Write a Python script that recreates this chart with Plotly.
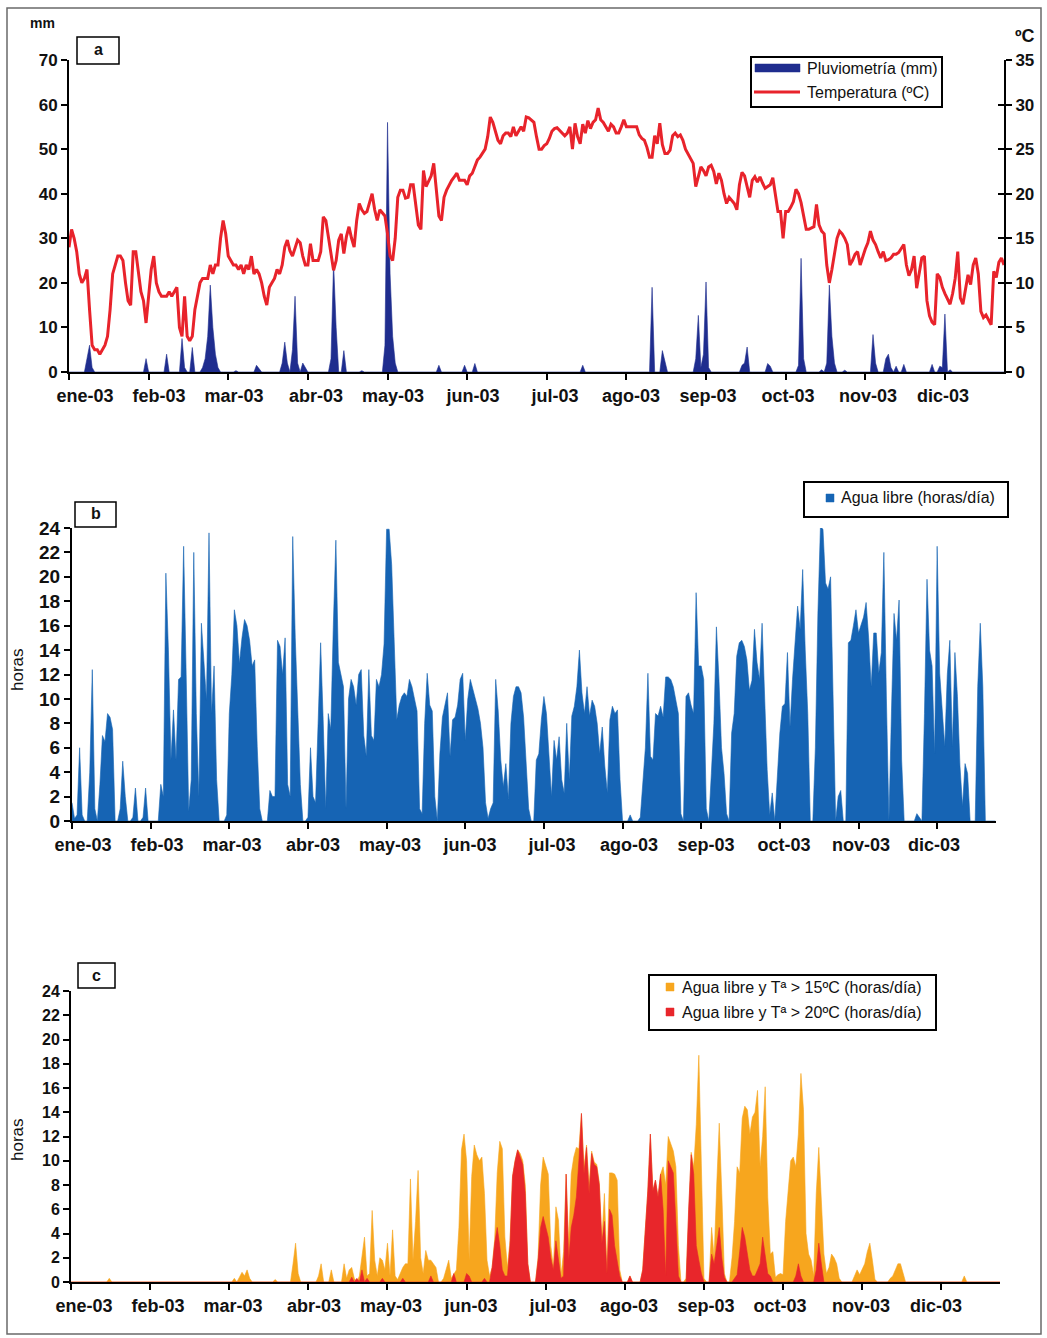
import plotly.graph_objects as go

W, H = 1047, 1338
FONT = "Liberation Sans, Arial, Helvetica, sans-serif"

# ---------------- data ----------------
month_labels = ["ene-03", "feb-03", "mar-03", "abr-03", "may-03", "jun-03",
                "jul-03", "ago-03", "sep-03", "oct-03", "nov-03", "dic-03"]
month_tick_days = [0, 31, 62, 93, 124, 155, 186, 217, 248, 279, 310, 341]

# daily mean temperature (ºC), day 0 .. 364
temperatura_c = [
    14, 16, 15, 13.5, 11, 10, 10.5, 11.5, 7, 3,
    2.5, 2.5, 2, 2.5, 3, 4, 7, 11, 12, 13,
    13, 12.5, 10, 8, 7.5, 13.5, 13.5, 11, 9, 8,
    5.5, 8.5, 11.5, 13, 10, 9, 8.5, 8.5, 8.5, 9,
    8.5, 9, 9.5, 5, 4, 8.5, 4, 3.5, 4, 7,
    8.5, 10, 10.5, 10.5, 10.5, 12, 11, 12, 12, 15,
    17, 15.5, 13, 12.5, 12, 12, 11.5, 12, 11, 12,
    11.5, 13, 11, 11.5, 11, 10, 8.5, 7.5, 9.5, 10,
    10.5, 11.5, 11, 12, 14, 14.8, 13.6, 13, 14, 14.8,
    14.5, 13, 12, 12, 14.4, 12.5, 12.5, 12.5, 13.5, 17.4,
    17, 15, 13, 11.4, 12.5, 14.8, 15.5, 13.3, 15.2, 16.3,
    15, 14, 17, 18.9, 18.2, 17.8, 18, 18.9, 20, 18.2,
    17, 18.2, 17.8, 17.5, 15.5, 13, 12.5, 15, 19.6, 20.4,
    20.4, 19.5, 19.6, 21, 21, 18.5, 16.5, 16, 22.6, 20.8,
    21.5, 22, 23.4, 20, 17.5, 17, 19.6, 20.4, 21, 21.5,
    21.9, 22.3, 21.5, 21.5, 21.5, 21, 22, 22.3, 23, 23.8,
    24.1, 24.5, 25, 26.4, 28.6, 28, 27, 26, 25.6, 26.5,
    26.8, 26.8, 26.4, 27.5, 26.5, 27, 27.5, 27, 28.6, 28.5,
    28.3, 28, 26.4, 25, 25, 25.4, 25.6, 26.2, 27, 27.3,
    27.4, 27.1, 26.8, 26.5, 26.8, 27.5, 25, 27.9, 26.4, 25.6,
    27.8, 26.8, 28.2, 27.3, 28, 28.3, 29.6, 28.3, 28, 27.5,
    27, 27.8, 27.5, 26.8, 26.8, 27.5, 28.3, 27.5, 27.5, 27.5,
    27.5, 27.5, 26.6, 26.2, 26, 25.2, 24.1, 24.1, 26.5, 25.6,
    27.9, 25.5, 24.5, 24.5, 24.9, 26.5, 26.8, 26.4, 26.6, 26,
    25, 24.5, 24, 23.4, 20.8, 22, 23, 22.6, 22, 23,
    23.2, 22.5, 21.1, 22.3, 21.5, 20, 18.9, 19.6, 19.2, 18.9,
    18.2, 21, 22.4, 22, 20.8, 19.6, 21.5, 21.9, 21.3, 21.9,
    21.2, 20.6, 20.8, 21, 21.8, 20, 18, 18, 15, 18,
    18, 18.5, 19.1, 20.5, 20, 19, 17.3, 16, 16, 16.2,
    16.3, 18.8, 16.5, 15.8, 15.5, 12, 10, 11.5, 13.5, 15,
    15.8, 15.5, 15, 14.3, 12, 12.5, 13.2, 13.5, 12, 13,
    13.8, 14.5, 15.8, 14.8, 14.3, 13.5, 12.8, 13.5, 12.5, 12.6,
    12.8, 13.2, 13.2, 13.4, 13.8, 14.3, 12, 10.8, 11.5, 13,
    9.4, 11, 12.8, 13, 8, 6.3, 5.6, 5.3, 11, 10.6,
    9.5, 8.8, 8.2, 7.6, 8.8, 10.5, 13.5, 8.3, 7.6, 9.5,
    10.9, 9.8, 12, 12.8, 11, 6.8, 6.1, 6.4, 5.8, 5.3,
    11.3, 10.6, 12.3, 12.8, 12,
]

# daily rainfall (mm)
pluviometria_mm = [
    0, 0, 0, 0, 0, 0, 0, 3, 6, 1,
    0, 0, 0, 0, 0, 0, 0, 0, 0, 0,
    0, 0, 0, 0, 0, 0, 0, 0, 0, 0,
    3, 0, 0, 0, 0, 0, 0, 0, 4, 0,
    0, 0, 0, 0, 7.5, 1, 0, 0, 5.5, 0,
    0, 0, 1, 3, 8, 19.5, 10, 4, 1, 0,
    0, 0, 0, 0, 0, 0.3, 0, 0, 0, 0,
    0, 0, 0, 1.5, 0.8, 0, 0, 0, 0, 0,
    0, 0, 0, 2, 6.7, 2, 0, 5, 17, 2,
    0, 2, 1, 0, 0, 0, 0, 0, 0, 0,
    0, 0, 3, 24.5, 10, 0, 0, 4.8, 0, 0,
    0, 0, 0, 0, 0.3, 0, 0, 0, 0, 0,
    0, 0, 0, 6, 56, 22, 8, 2, 0, 0,
    0, 0, 0, 0, 0, 0, 0, 0, 0, 0,
    0, 0, 0, 0, 1.5, 0, 0, 0, 0, 0,
    0, 0, 0, 0, 1.5, 0, 0, 0, 1.9, 0,
    0, 0, 0, 0, 0, 0, 0, 0, 0, 0,
    0, 0, 0, 0, 0, 0, 0, 0, 0, 0,
    0, 0, 0, 0, 0, 0, 0, 0, 0, 0,
    0, 0, 0, 0, 0, 0, 0, 0, 0, 0,
    1.5, 0, 0, 0, 0, 0, 0, 0, 0, 0,
    0, 0, 0, 0, 0, 0, 0, 0, 0, 0,
    0, 0, 0, 0, 0, 0, 0, 19, 0, 0,
    0, 4.8, 2, 0, 0, 0, 0, 0, 0, 0,
    0, 0, 0, 0, 3, 12.7, 1, 4, 20.2, 1,
    0, 0, 0, 0, 0, 0, 0, 0, 0, 0,
    0, 0, 1.5, 2, 5.6, 0, 0, 0, 0, 0,
    0, 0, 1.9, 1.3, 0, 0, 0, 0, 0, 0,
    0, 0, 0, 0, 1.5, 25.5, 3, 0, 0, 0,
    0, 0, 0, 0.5, 0, 2, 19.5, 8, 2, 0,
    0, 0, 0.4, 0, 0, 0, 0, 0, 0, 0,
    0, 0, 0, 8.4, 2, 0, 0, 0, 3, 4,
    1, 0, 1.3, 0, 0, 1.7, 0, 0, 0, 0,
    0, 0, 0, 0, 0, 0, 1.7, 0, 0, 1.3,
    1, 13, 0, 0.5, 0, 0, 0, 0, 0, 0,
    0, 0, 0, 0, 0, 0, 0, 0, 0, 0,
    0, 0, 0, 0, 0,
]

# hours per day with free water
agua_libre_h = [
    1.5, 0.2, 0.5, 6, 0.5, 0, 0, 4, 12.4, 1,
    0, 3, 7, 6.5, 8.8, 8.5, 7.5, 0, 0, 1,
    4.9, 2, 0, 0, 0.3, 2.7, 0, 0, 0.3, 2.7,
    0, 0, 0, 0, 0, 3, 2, 20.3, 14, 5,
    9.1, 5, 11.6, 11.8, 22.5, 12, 0.8, 3.4, 22, 8.8,
    2, 16.2, 12.7, 9.9, 23.6, 8.8, 12.7, 3.4, 0, 0,
    0, 0.5, 8.8, 12, 17.3, 16, 12.9, 15, 16.5, 16,
    14.8, 12.7, 13.2, 6.1, 1, 0, 0, 0, 2.5, 2,
    2, 14.8, 14.3, 12, 15, 3, 2, 23.3, 15, 9,
    3, 0, 0, 0.3, 6, 2, 1.5, 8, 14.6, 8.3,
    1, 8.8, 7.5, 16, 23, 13, 12, 11, 1, 10,
    11.6, 11, 9.5, 12, 12.4, 7, 5.3, 12.4, 7, 6.6,
    11.6, 11, 12, 14.5, 23.9, 23.9, 21, 15, 8.3, 9.5,
    10.2, 10.5, 10.2, 11.6, 11, 10, 9, 1, 0.6, 8,
    12.1, 9.5, 9, 2, 0, 5.5, 8.5, 9.5, 10.5, 5.3,
    8.3, 8.5, 9.5, 11.6, 12.1, 6.6, 10, 11.6, 10.7, 10,
    9.2, 8, 6, 1.5, 0.2, 1, 1.5, 11.6, 9, 5,
    2.8, 4.7, 1.8, 8, 10.2, 11, 11, 10.5, 8.5, 4.5,
    1, 0, 0, 5, 5.5, 8.3, 10.2, 8.8, 5, 2,
    6.6, 5, 6.9, 3.4, 2.3, 8, 3.4, 8.6, 9.4, 11,
    14, 10.5, 8.8, 11, 8.6, 9.9, 9.4, 8, 5.5, 7.7,
    4.5, 2.3, 8.3, 9.4, 8.8, 9.1, 3.4, 0, 0, 0,
    0.5, 0, 0, 0, 0.3, 3, 6, 12.1, 5.3, 5,
    8.8, 8.6, 9.4, 8.5, 11.8, 11.8, 11.6, 11, 10, 8.8,
    0.6, 0, 10.2, 10.5, 9.5, 8.8, 18.7, 12.7, 12.7, 11.6,
    1, 0, 3.9, 8, 15.9, 11.6, 6, 3.9, 0.6, 0,
    7.2, 8.8, 13.5, 14.6, 14.8, 14.3, 13.2, 10.7, 11.5, 15.7,
    13, 11.6, 16.2, 10, 4.2, 0.5, 2.3, 0, 3.9, 7.2,
    9.4, 9.6, 13.8, 7.7, 11.6, 15, 17.6, 15.7, 20.6, 14,
    8.8, 0, 0, 6, 17, 24.1, 23.9, 19.5, 19, 20,
    10, 0, 2, 2.5, 0, 0, 14.6, 14.8, 16, 17.3,
    15.4, 16, 16.7, 17.9, 15, 11, 15.4, 15.4, 12.1, 13.8,
    22, 10, 0, 9, 17, 14.8, 18.1, 5, 0, 0,
    0, 0, 0, 0.6, 0.3, 0, 8.8, 19.8, 14, 12.7,
    5.5, 22.5, 12.1, 9.4, 6.1, 12, 14.8, 6.1, 13.8, 10.2,
    4.5, 1.2, 4.7, 3.9, 0, 0, 0, 11, 16.2, 11,
    0, 0, 0, 0, 0,
]

# hours per day with free water and T > 15 ºC
agua_t15_h = [
    0, 0, 0, 0, 0, 0, 0, 0, 0, 0,
    0, 0, 0, 0, 0, 0.3, 0, 0, 0, 0,
    0, 0, 0, 0, 0, 0, 0, 0, 0, 0,
    0, 0, 0, 0, 0, 0, 0, 0, 0, 0,
    0, 0, 0, 0, 0, 0, 0, 0, 0, 0,
    0, 0, 0, 0, 0, 0, 0, 0, 0, 0,
    0, 0, 0, 0, 0.3, 0, 0.4, 0.8, 0.5, 1,
    0.3, 0, 0, 0, 0, 0, 0, 0, 0, 0,
    0.2, 0, 0, 0, 0, 0, 0, 1.5, 3.2, 0.7,
    0, 0, 0, 0, 0, 0, 0, 0.5, 1.5, 0,
    0, 0, 1, 0, 0, 0, 0, 1.5, 0.3, 1,
    1.2, 0.3, 0, 0.5, 2, 3.7, 0.5, 0.7, 5.9, 1.8,
    0.5, 2, 1.8, 1, 3.2, 0.5, 4.3, 0.5, 0.2, 0.7,
    1.2, 1.5, 1.5, 8.5, 1.8, 5, 9.2, 2, 0.7, 2.6,
    1.8, 1.8, 1.5, 1.2, 0, 0, 0.3, 1, 1.8, 0.3,
    0.7, 1, 4.5, 10.9, 12.2, 10, 1.8, 8.7, 11.3, 10.5,
    10, 10.3, 7.3, 1.8, 0.5, 1.2, 3.5, 9, 11.6, 11,
    3.7, 1.2, 3.4, 8.7, 10, 10.9, 10.6, 10, 8, 1.5,
    0, 0, 0, 2, 8, 10.3, 9.5, 8.9, 3, 1.2,
    6.2, 5.1, 0.5, 2.5, 8.9, 3.2, 8.9, 10.3, 11.1, 11,
    13.9, 9.5, 11.3, 8, 10.8, 9.9, 9.7, 8.2, 3.5, 7.3,
    1, 9, 9, 8.9, 8.4, 1, 0, 0, 0, 0.5,
    0, 0, 0, 0, 1, 4, 7.5, 12.2, 7.5, 8.4,
    7, 8.9, 9.5, 8, 12, 11.4, 10.8, 9.5, 3, 0,
    0, 0.3, 6, 10.7, 9.5, 13, 18.7, 8, 0.3, 0,
    0, 4.5, 2, 8, 13.1, 7.3, 0.7, 0, 0, 2,
    5, 9.5, 9, 13.5, 14.5, 14.2, 12.2, 13.6, 14, 15.8,
    9.5, 12, 16.1, 7, 2.3, 2.5, 0.4, 0.6, 0.7, 0.6,
    5, 7.5, 10, 10.3, 9.5, 12.2, 17.2, 14.2, 4, 2.3,
    1.8, 0.5, 7.3, 11.1, 6.2, 2.3, 0.7, 1.2, 2.3, 2,
    1.5, 0.3, 0, 0, 0, 0, 0, 0.5, 1, 0.6,
    1, 1.5, 2.5, 3.2, 1.8, 0.2, 0, 0, 0, 0,
    0, 0.3, 0.5, 1, 1.5, 1.5, 0.8, 0, 0, 0,
    0, 0, 0, 0, 0, 0, 0, 0, 0, 0,
    0, 0, 0, 0, 0, 0, 0, 0, 0, 0,
    0.5, 0, 0, 0, 0, 0, 0, 0, 0, 0,
    0, 0, 0, 0, 0,
]

# hours per day with free water and T > 20 ºC
agua_t20_h = [
    0, 0, 0, 0, 0, 0, 0, 0, 0, 0,
    0, 0, 0, 0, 0, 0, 0, 0, 0, 0,
    0, 0, 0, 0, 0, 0, 0, 0, 0, 0,
    0, 0, 0, 0, 0, 0, 0, 0, 0, 0,
    0, 0, 0, 0, 0, 0, 0, 0, 0, 0,
    0, 0, 0, 0, 0, 0, 0, 0, 0, 0,
    0, 0, 0, 0, 0, 0, 0, 0, 0, 0,
    0, 0, 0, 0, 0, 0, 0, 0, 0, 0,
    0, 0, 0, 0, 0, 0, 0, 0, 0, 0,
    0, 0, 0, 0, 0, 0, 0, 0, 0, 0,
    0, 0, 0, 0, 0, 0, 0, 0, 0, 0,
    0.4, 0, 0.3, 0, 1, 0, 0.3, 0, 0, 0,
    0, 0, 0.3, 0, 0, 0, 0, 0, 0, 0,
    0.3, 0, 0, 0, 0, 0, 0, 0, 0, 0,
    0, 0.5, 0, 0, 0, 0, 0, 0, 0, 0,
    0.7, 0, 0, 0, 0, 0.7, 0.5, 0, 0, 0,
    0, 0, 0.3, 0, 0, 1.2, 3.2, 4.5, 3, 1,
    0.5, 0.5, 3, 8.7, 10, 10.9, 10.3, 9.7, 7.3, 1.5,
    0, 0, 0, 1.8, 4.5, 5.4, 4.5, 3.7, 2, 1,
    3.4, 1.8, 0.3, 0.5, 8.9, 1.8, 4.5, 5.5, 7, 10,
    13.9, 8.9, 11.1, 7.3, 10.6, 9.7, 9.5, 8, 3.2, 5,
    0.7, 6, 5.5, 3, 1.8, 0.5, 0, 0, 0, 0.5,
    0, 0, 0, 0, 1, 4, 7.5, 12.2, 7.5, 8.4,
    7, 8.9, 6, 0.5, 10, 9.5, 9, 5, 0.5, 0,
    0, 0, 6, 10.5, 8.9, 3, 1.8, 0.7, 0, 0,
    0, 2.3, 1.5, 3, 4.5, 2, 0.4, 0, 0, 0,
    0.3, 0.6, 2.5, 4.5, 3.7, 2.3, 1, 0.5, 0.5, 1,
    1.5, 3.7, 2, 0.7, 0.5, 0, 0, 0, 0, 0,
    0, 0, 0, 0, 0.5, 1.5, 0.5, 0, 0, 0,
    0, 0, 1, 3.2, 1.5, 0, 0, 0, 0, 0,
    0, 0, 0, 0, 0, 0, 0, 0, 0, 0,
    0, 0, 0, 0, 0, 0, 0, 0, 0, 0,
    0, 0, 0, 0, 0, 0, 0, 0, 0, 0,
    0, 0, 0, 0, 0, 0, 0, 0, 0, 0,
    0, 0, 0, 0, 0, 0, 0, 0, 0, 0,
    0, 0, 0, 0, 0, 0, 0, 0, 0, 0,
    0, 0, 0, 0, 0,
]

N = len(temperatura_c)
for name, s in [("pluv", pluviometria_mm), ("agua", agua_libre_h),
                ("t15", agua_t15_h), ("t20", agua_t20_h)]:
    assert len(s) == N, (name, len(s), N)
days = list(range(N))
XMAX = N - 1

# ---------------- colours ----------------
C_RAIN = "#1f2d8e"
C_TEMP = "#e8232b"
C_AGUA = "#1664b4"
C_T15 = "#f7a61e"
C_T20 = "#e8262b"

# ---------------- geometry (pixels) ----------------
PA = dict(x0=69, x1=1004, top=60, bot=372)
PB = dict(x0=72, x1=995.5, top=528, bot=821)
PC = dict(x0=71, x1=1000, top=991, bot=1282)
label_px = {
    "a": [85, 159, 234, 316, 393, 473, 555, 631, 708, 788, 868, 943],
    "b": [83, 157, 232, 313, 390, 470, 552, 629, 706, 784, 861, 934],
    "c": [84, 158, 233, 314, 391, 471, 553, 629, 706, 780, 861, 936],
}


def xdom(p):
    return [p["x0"] / W, p["x1"] / W]


def ydom(p):
    return [1 - p["bot"] / H, 1 - p["top"] / H]


def label_days(key, p):
    return [(px - p["x0"]) / (p["x1"] - p["x0"]) * XMAX for px in label_px[key]]


def px_rect(x0, y0, x1, y1, line_color="black", lw=1.5, fill=None):
    return dict(type="rect", xref="paper", yref="paper",
                x0=x0 / W, x1=x1 / W, y0=1 - y1 / H, y1=1 - y0 / H,
                line=dict(color=line_color, width=lw), layer="above",
                fillcolor=fill if fill else "rgba(0,0,0,0)")


def px_line(x0, y0, x1, y1, color, lw):
    return dict(type="line", xref="paper", yref="paper",
                x0=x0 / W, x1=x1 / W, y0=1 - y0 / H, y1=1 - y1 / H,
                line=dict(color=color, width=lw), layer="above")


def px_text(text, x, y, size, bold=False, xanchor="center", textangle=0, color="#111"):
    return dict(text=text, x=x / W, y=1 - y / H, xref="paper", yref="paper",
                showarrow=False, xanchor=xanchor, yanchor="middle", textangle=textangle,
                font=dict(family=FONT, size=size, color=color,
                          weight="bold" if bold else "normal"))


fig = go.Figure()

# panel a
fig.add_trace(go.Scatter(x=days, y=pluviometria_mm, mode="lines", fill="tozeroy",
                         line=dict(color=C_RAIN, width=0.6), fillcolor=C_RAIN,
                         name="Pluviometría (mm)", xaxis="x", yaxis="y", showlegend=False))
fig.add_trace(go.Scatter(x=days, y=temperatura_c, mode="lines",
                         line=dict(color=C_TEMP, width=3),
                         name="Temperatura (ºC)", xaxis="x", yaxis="y4", showlegend=False))
# panel b
fig.add_trace(go.Scatter(x=days, y=agua_libre_h, mode="lines", fill="tozeroy",
                         line=dict(color=C_AGUA, width=0.6), fillcolor=C_AGUA,
                         name="Agua libre (horas/día)", xaxis="x2", yaxis="y2", showlegend=False))
# panel c
fig.add_trace(go.Scatter(x=days, y=agua_t15_h, mode="lines", fill="tozeroy",
                         line=dict(color=C_T15, width=0.6), fillcolor=C_T15,
                         name="Agua libre y Tª > 15ºC (horas/día)", xaxis="x3", yaxis="y3",
                         showlegend=False))
fig.add_trace(go.Scatter(x=days, y=agua_t20_h, mode="lines", fill="tozeroy",
                         line=dict(color=C_T20, width=0.6), fillcolor=C_T20,
                         name="Agua libre y Tª > 20ºC (horas/día)", xaxis="x3", yaxis="y3",
                         showlegend=False))
# invisible carriers for the helper axes (month labels, inner ticks of ºC axis)
for xa, ya in [("x4", "y"), ("x5", "y2"), ("x6", "y3"), ("x", "y5")]:
    fig.add_trace(go.Scatter(x=[None], y=[None], mode="lines", xaxis=xa, yaxis=ya,
                             showlegend=False, hoverinfo="skip"))

AX = dict(showline=True, linecolor="black", linewidth=2, showgrid=False, zeroline=False,
          ticks="outside", ticklen=6, tickwidth=1.5, tickcolor="black", automargin=False)


def tickfont(size):
    return dict(family=FONT, size=size, color="#111", weight="bold")


def tick_axis(p, anchor):
    return dict(AX, domain=xdom(p), range=[0, XMAX], anchor=anchor,
                tickmode="array", tickvals=month_tick_days, showticklabels=False)


def label_axis(key, p, over, anchor):
    return dict(overlaying=over, anchor=anchor, side="bottom", range=[0, XMAX],
                showline=False, showgrid=False, zeroline=False, automargin=False,
                ticks="outside", ticklen=7, tickcolor="rgba(0,0,0,0)",
                tickmode="array", tickvals=label_days(key, p), ticktext=month_labels,
                tickfont=tickfont(18))


shapes = [
    px_rect(7, 8, 1041, 1334, line_color="#6a6a6a", lw=1.5),
    # panel letter boxes
    px_rect(77, 37, 119, 64), px_rect(75, 502, 116, 527), px_rect(78, 963, 115, 988),
    # legend a
    px_rect(751, 57, 942, 107, lw=2),
    px_rect(755, 64, 800, 72, line_color=C_RAIN, lw=0.5, fill=C_RAIN),
    px_line(754, 92, 800, 92, C_TEMP, 3),
    # legend b
    px_rect(804, 482, 1008, 517, lw=2),
    px_rect(826, 494, 834, 502, line_color=C_AGUA, lw=0.5, fill=C_AGUA),
    # legend c
    px_rect(649, 975, 936, 1030, lw=2),
    px_rect(666, 983, 674, 991, line_color=C_T15, lw=0.5, fill=C_T15),
    px_rect(666, 1008, 674, 1016, line_color=C_T20, lw=0.5, fill=C_T20),
]

annotations = [
    px_text("a", 98, 50, 16, bold=True),
    px_text("b", 96, 514, 16, bold=True),
    px_text("c", 96, 975, 16, bold=True),
    px_text("mm", 43, 23, 14, bold=True),
    px_text("ºC", 1025, 36, 18, bold=True),
    px_text("horas", 17, 670, 17, textangle=-90),
    px_text("horas", 17, 1140, 17, textangle=-90),
    px_text("Pluviometría (mm)", 805, 68, 16, xanchor="left"),
    px_text("Temperatura (ºC)", 805, 92, 16, xanchor="left"),
    px_text("Agua libre (horas/día)", 839, 498, 16, xanchor="left"),
    px_text("Agua libre y Tª > 15ºC (horas/día)", 680, 987, 16, xanchor="left"),
    px_text("Agua libre y Tª > 20ºC (horas/día)", 680, 1012, 16, xanchor="left"),
]

fig.update_layout(
    width=W, height=H, autosize=False,
    margin=dict(l=0, r=0, t=0, b=0, pad=0),
    paper_bgcolor="white", plot_bgcolor="rgba(0,0,0,0)",
    showlegend=False,
    font=dict(family=FONT, color="#111"),
    xaxis=tick_axis(PA, "y"),
    xaxis2=tick_axis(PB, "y2"),
    xaxis3=tick_axis(PC, "y3"),
    xaxis4=label_axis("a", PA, "x", "y"),
    xaxis5=label_axis("b", PB, "x2", "y2"),
    xaxis6=label_axis("c", PC, "x3", "y3"),
    yaxis=dict(AX, domain=ydom(PA), range=[0, 70], dtick=10, anchor="x",
               tickfont=tickfont(17)),
    yaxis4=dict(AX, overlaying="y", side="right", anchor="x", range=[0, 35], dtick=5,
                tickfont=tickfont(17)),
    yaxis5=dict(overlaying="y", side="right", anchor="x", range=[0, 35], dtick=5,
                showline=False, showgrid=False, zeroline=False, automargin=False,
                ticks="inside", ticklen=6, tickwidth=1.5, tickcolor="black",
                showticklabels=False),
    yaxis2=dict(AX, domain=ydom(PB), range=[0, 24], dtick=2, anchor="x2",
                tickfont=tickfont(19)),
    yaxis3=dict(AX, domain=ydom(PC), range=[0, 24], dtick=2, anchor="x3",
                tickfont=tickfont(16)),
    shapes=shapes,
    annotations=annotations,
)

fig.write_html(
    "out.html",
    config={"displayModeBar": False},
    post_script="document.body.style.margin='0';document.body.style.padding='0';"
                "document.documentElement.style.overflow='hidden';",
)
